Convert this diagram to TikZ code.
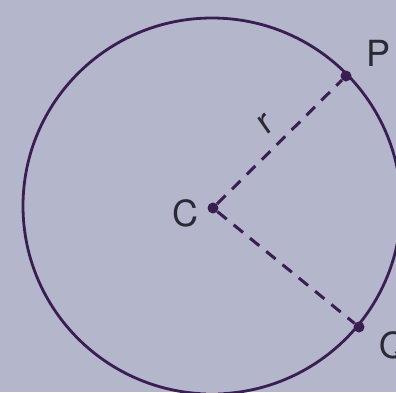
\documentclass[tikz,border=0pt]{standalone}
\usepackage{fontspec}
\setmainfont{TeX Gyre Heros}
\definecolor{bgc}{HTML}{B4B6CC}
\definecolor{linec}{HTML}{3A1E52}
\definecolor{txtc}{HTML}{2A2A34}
\begin{document}
\begin{tikzpicture}[x=1pt,y=-1pt,
  rim/.style={draw=linec,line width=2.8pt},
  rad/.style={draw=linec,line width=3pt,dash pattern=on 12pt off 9pt},
  dotc/.style={circle,fill=linec,inner sep=0pt,minimum size=11pt},
  lab/.style={text=txtc,font=\fontsize{36}{40}\selectfont,inner sep=0pt}]
\fill[bgc] (0,0) rectangle (396,392);
\useasboundingbox (0,0) rectangle (396,392);
\clip (0,0) rectangle (396,392);
\coordinate (O) at (212,206);
\draw[rim] (O) ellipse [x radius=189, y radius=188];
\node[dotc] (C) at (213,208) {};
\node[dotc] (P) at (346,76) {};
\node[dotc] (Q) at (359,327) {};
\draw[rad] (C) -- (P);
\draw[rad] (C) -- (Q);
\node[lab] (cl) at (185,213) {C};
\node[lab] (pl) at (379,53) {P};
\node[lab] (ql) at (393,346) {Q};
\node[lab,rotate=35] (rl) at (266,124) {r};
\end{tikzpicture}
\end{document}
